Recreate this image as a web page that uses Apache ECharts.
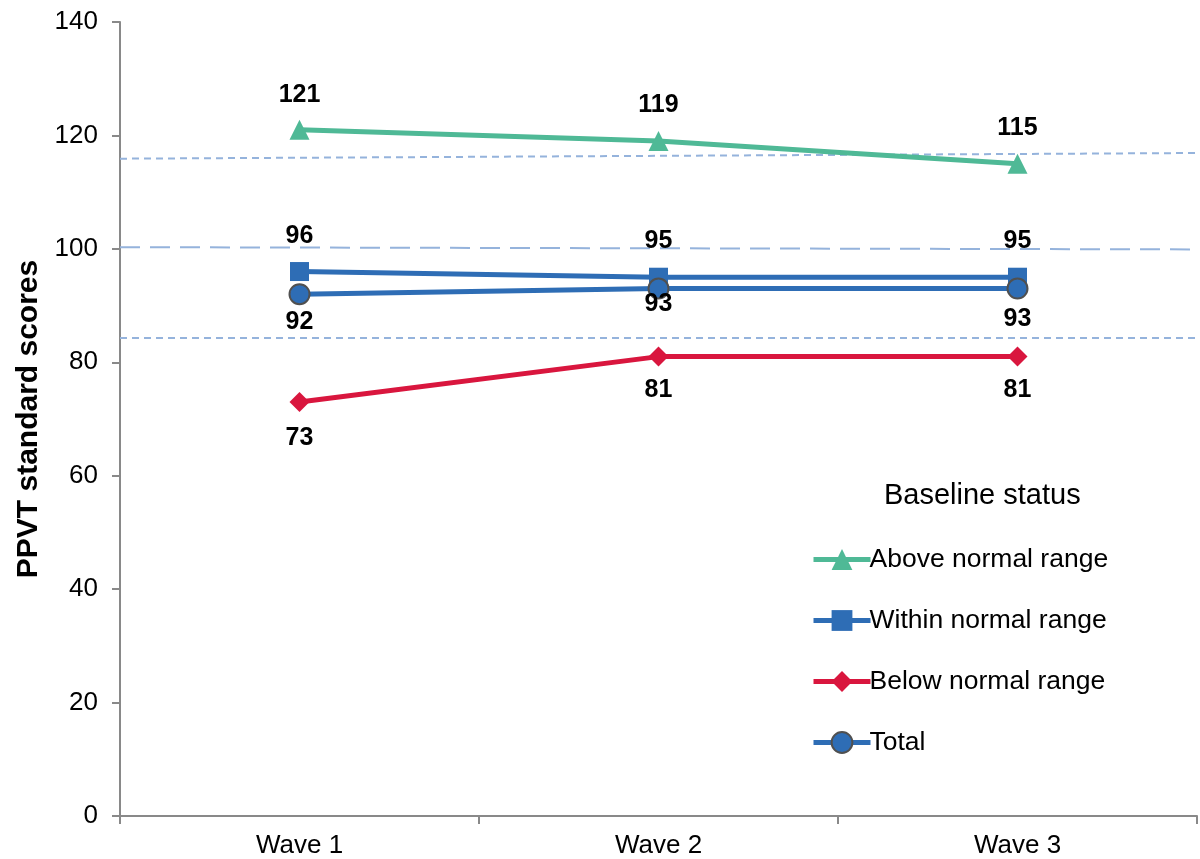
<!DOCTYPE html>
<html><head><meta charset="utf-8">
<script src="https://cdn.jsdelivr.net/npm/echarts@6/dist/echarts.min.js"></script>
<style>html,body{margin:0;padding:0;background:#fff}#c{width:1200px;height:859px}</style>
</head><body><div id="c"></div>
<script>
const categories = ['Wave 1', 'Wave 2', 'Wave 3'];
const aboveNormal = [121, 119, 115];
const withinNormal = [96, 95, 95];
const belowNormal = [73, 81, 81];
const totalScores = [92, 93, 93];
// reference dashed lines: [start, end] values across the plot
const refUpper = [115.9, 116.9];
const refMid = [100.3, 99.9];
const refLower = [84.3, 84.3];
const yTicks = [0, 20, 40, 60, 80, 100, 120, 140];

const FONT = 'Liberation Sans, Arial, sans-serif';
const chart = echarts.init(document.getElementById('c'));

function dataWithOffsets(vals, offsets) {
  return vals.map((v, i) => ({ value: v, label: { offset: [0, offsets[i]] } }));
}
function refLine(vals, dash, width) {
  return {
    type: 'line', xAxisIndex: 1, yAxisIndex: 0, silent: true, symbol: 'none', z: 1,
    data: [[0, vals[0]], [1, vals[1]]],
    lineStyle: { color: '#95b3dc', width: width, type: dash }
  };
}
const dataLabel = { show: true, position: 'inside', fontFamily: FONT, fontWeight: 'bold', fontSize: 25, color: '#000' };

chart.setOption({
  animation: false,
  backgroundColor: '#fff',
  title: {
    text: 'Baseline status', left: 879, top: 476,
    textStyle: { fontFamily: FONT, fontSize: 29, fontWeight: 'normal', color: '#000' }
  },
  legend: {
    orient: 'vertical', left: 806, top: 541,
    itemWidth: 57, itemHeight: 26, itemGap: 34,
    lineStyle: { width: 5 },
    textStyle: { fontFamily: FONT, fontSize: 26.5, color: '#000', padding: [0, 0, 0, -6] },
    data: ['Above normal range', 'Within normal range', 'Below normal range', 'Total']
  },
  grid: { left: 120, right: 3, top: 22, bottom: 43, containLabel: false },
  xAxis: [{
    type: 'category', data: categories, boundaryGap: true,
    axisLine: { lineStyle: { color: '#898989', width: 2 } },
    axisTick: { show: true, length: 8, lineStyle: { color: '#898989', width: 2 } },
    axisLabel: { fontFamily: FONT, fontSize: 26, color: '#000', margin: 17 },
    splitLine: { show: false }
  }, {
    type: 'value', min: 0, max: 1, show: false
  }],
  yAxis: {
    type: 'value', min: 0, max: 140, interval: 20,
    name: 'PPVT standard scores', nameLocation: 'middle', nameRotate: 90, nameGap: 73,
    nameTextStyle: { fontFamily: FONT, fontSize: 30, fontWeight: 'bold', color: '#000' },
    axisLine: { show: true, lineStyle: { color: '#898989', width: 2 } },
    axisTick: { show: true, length: 8, lineStyle: { color: '#898989', width: 2 } },
    axisLabel: { fontFamily: FONT, fontSize: 26, color: '#000', margin: 22,
      formatter: v => yTicks.includes(v) ? String(v) : '' },
    splitLine: { show: false }
  },
  series: [
    refLine(refUpper, [7, 5], 2),
    refLine(refMid, [20, 10], 2),
    refLine(refLower, [7, 5], 2),
    {
      name: 'Above normal range', type: 'line', data: dataWithOffsets(aboveNormal, [-35, -36, -36]),
      symbol: 'triangle', symbolSize: 20, z: 3,
      lineStyle: { color: '#4fb996', width: 5 }, itemStyle: { color: '#4fb996' },
      label: dataLabel
    },
    {
      name: 'Within normal range', type: 'line', data: dataWithOffsets(withinNormal, [-35, -36, -36]),
      symbol: 'rect', symbolSize: 19, z: 3,
      lineStyle: { color: '#2e6db5', width: 5 }, itemStyle: { color: '#2e6db5' },
      label: dataLabel
    },
    {
      name: 'Below normal range', type: 'line', data: dataWithOffsets(belowNormal, [36, 33, 33]),
      symbol: 'diamond', symbolSize: 20, z: 3,
      lineStyle: { color: '#d9163e', width: 5 }, itemStyle: { color: '#d9163e' },
      label: dataLabel
    },
    {
      name: 'Total', type: 'line', data: dataWithOffsets(totalScores, [28, 16, 31]),
      symbol: 'circle', symbolSize: 20, z: 4,
      lineStyle: { color: '#2e6db5', width: 5 },
      itemStyle: { color: '#2e6db5', borderColor: '#505050', borderWidth: 2 },
      label: dataLabel
    }
  ]
});
</script></body></html>
